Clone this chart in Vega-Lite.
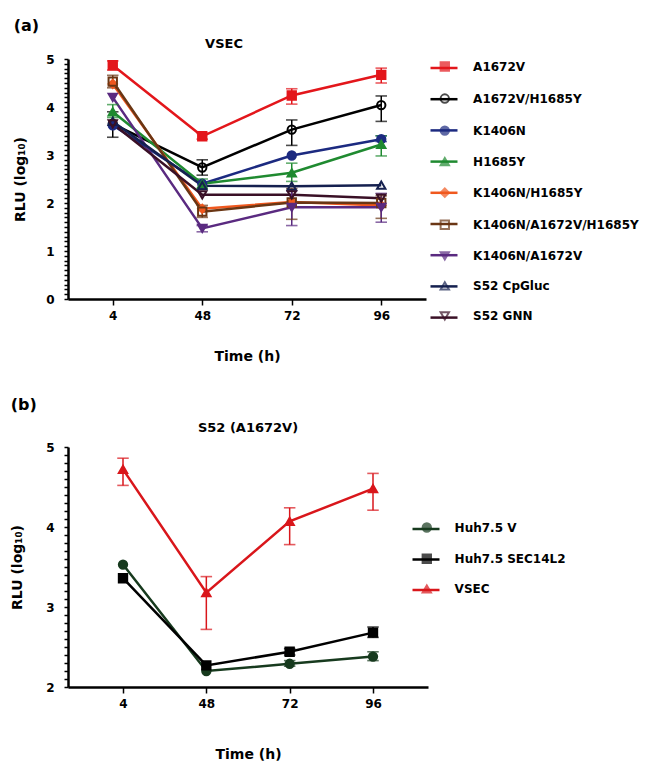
{
  "$schema": "https://vega.github.io/schema/vega-lite/v6.json",
  "padding": {"left": 10, "top": 18, "right": 5, "bottom": 5},
  "config": {
    "font": "DejaVu Sans",
    "view": {"stroke": null},
    "axis": {"domainColor": "black", "domainWidth": 2.5, "tickColor": "black", "tickWidth": 1.5, "labelFont": "DejaVu Sans", "labelFontWeight": "bold", "labelFontSize": 12, "labelColor": "black", "titleFont": "DejaVu Sans", "titleFontWeight": "bold", "titleFontSize": 14, "titleColor": "black", "grid": false, "labelOverlap": false},
    "title": {"font": "DejaVu Sans", "fontWeight": "bold", "color": "black"}
  },
  "datasets": {
    "a": [
      {"series": "A1672V", "t": 4, "y": 4.87, "lo": 4.77, "hi": 4.96},
      {"series": "A1672V", "t": 48, "y": 3.39, "lo": 3.33, "hi": 3.45},
      {"series": "A1672V", "t": 72, "y": 4.24, "lo": 4.06, "hi": 4.38},
      {"series": "A1672V", "t": 96, "y": 4.67, "lo": 4.5, "hi": 4.81},
      {"series": "A1672V/H1685Y", "t": 4, "y": 3.65, "lo": 3.37, "hi": 3.9},
      {"series": "A1672V/H1685Y", "t": 48, "y": 2.74, "lo": 2.58, "hi": 2.9},
      {"series": "A1672V/H1685Y", "t": 72, "y": 3.53, "lo": 3.2, "hi": 3.73},
      {"series": "A1672V/H1685Y", "t": 96, "y": 4.04, "lo": 3.7, "hi": 4.23},
      {"series": "K1406N", "t": 4, "y": 3.62, "lo": null, "hi": null},
      {"series": "K1406N", "t": 48, "y": 2.4, "lo": null, "hi": null},
      {"series": "K1406N", "t": 72, "y": 2.99, "lo": null, "hi": null},
      {"series": "K1406N", "t": 96, "y": 3.33, "lo": 3.28, "hi": 3.4},
      {"series": "H1685Y", "t": 4, "y": 3.9, "lo": 3.78, "hi": 4.05},
      {"series": "H1685Y", "t": 48, "y": 2.4, "lo": 2.3, "hi": 2.5},
      {"series": "H1685Y", "t": 72, "y": 2.63, "lo": 2.45, "hi": 2.83},
      {"series": "H1685Y", "t": 96, "y": 3.22, "lo": 2.98, "hi": 3.4},
      {"series": "K1406N/H1685Y", "t": 4, "y": 4.48, "lo": null, "hi": null},
      {"series": "K1406N/H1685Y", "t": 48, "y": 1.88, "lo": null, "hi": null},
      {"series": "K1406N/H1685Y", "t": 72, "y": 2.02, "lo": null, "hi": null},
      {"series": "K1406N/H1685Y", "t": 96, "y": 1.95, "lo": null, "hi": null},
      {"series": "K1406N/A1672V/H1685Y", "t": 4, "y": 4.53, "lo": 4.4, "hi": 4.66},
      {"series": "K1406N/A1672V/H1685Y", "t": 48, "y": 1.82, "lo": 1.7, "hi": 1.95},
      {"series": "K1406N/A1672V/H1685Y", "t": 72, "y": 2.01, "lo": 1.66, "hi": 2.3},
      {"series": "K1406N/A1672V/H1685Y", "t": 96, "y": 2.0, "lo": 1.68, "hi": 2.15},
      {"series": "K1406N/A1672V", "t": 4, "y": 4.2, "lo": null, "hi": null},
      {"series": "K1406N/A1672V", "t": 48, "y": 1.47, "lo": 1.4, "hi": 1.53},
      {"series": "K1406N/A1672V", "t": 72, "y": 1.91, "lo": 1.53, "hi": 2.25},
      {"series": "K1406N/A1672V", "t": 96, "y": 1.91, "lo": 1.6, "hi": 2.2},
      {"series": "S52 CpGluc", "t": 4, "y": 3.7, "lo": null, "hi": null},
      {"series": "S52 CpGluc", "t": 48, "y": 2.36, "lo": null, "hi": null},
      {"series": "S52 CpGluc", "t": 72, "y": 2.35, "lo": null, "hi": null},
      {"series": "S52 CpGluc", "t": 96, "y": 2.37, "lo": null, "hi": null},
      {"series": "S52 GNN", "t": 4, "y": 3.65, "lo": null, "hi": null},
      {"series": "S52 GNN", "t": 48, "y": 2.17, "lo": null, "hi": null},
      {"series": "S52 GNN", "t": 72, "y": 2.17, "lo": null, "hi": null},
      {"series": "S52 GNN", "t": 96, "y": 2.1, "lo": null, "hi": null}
    ],
    "b": [
      {"series": "VSEC", "t": 4, "y": 4.72, "lo": 4.52, "hi": 4.86},
      {"series": "VSEC", "t": 48, "y": 3.18, "lo": 2.72, "hi": 3.38},
      {"series": "VSEC", "t": 72, "y": 4.07, "lo": 3.78, "hi": 4.24},
      {"series": "VSEC", "t": 96, "y": 4.48, "lo": 4.21, "hi": 4.67},
      {"series": "Huh7.5 V", "t": 4, "y": 3.53, "lo": null, "hi": null},
      {"series": "Huh7.5 V", "t": 48, "y": 2.2, "lo": null, "hi": null},
      {"series": "Huh7.5 V", "t": 72, "y": 2.29, "lo": 2.26, "hi": 2.33},
      {"series": "Huh7.5 V", "t": 96, "y": 2.38, "lo": 2.33, "hi": 2.44},
      {"series": "Huh7.5 SEC14L2", "t": 4, "y": 3.36, "lo": null, "hi": null},
      {"series": "Huh7.5 SEC14L2", "t": 48, "y": 2.27, "lo": null, "hi": null},
      {"series": "Huh7.5 SEC14L2", "t": 72, "y": 2.44, "lo": 2.4, "hi": 2.48},
      {"series": "Huh7.5 SEC14L2", "t": 96, "y": 2.68, "lo": 2.62, "hi": 2.75}
    ]
  },
  "resolve": {
    "scale": {"color": "independent", "stroke": "independent", "fill": "independent", "shape": "independent"},
    "legend": {"color": "independent", "stroke": "independent", "fill": "independent", "shape": "independent"}
  },
  "spacing": 34,
  "vconcat": [
    {
      "title": {"text": "(a)", "anchor": "start", "frame": "bounds", "fontSize": 16, "offset": 4},
      "resolve": {
        "scale": {"color": "independent", "stroke": "independent", "fill": "independent", "shape": "independent"},
        "legend": {"color": "independent", "stroke": "independent", "fill": "independent", "shape": "independent"}
      },
      "vconcat": [
        {
          "title": {"text": "VSEC", "fontSize": 13, "offset": 2, "dx": -23},
          "width": 358,
          "height": 240,
          "data": {"name": "a"},
          "encoding": {
            "x": {"field": "t", "type": "ordinal", "scale": {"type": "point", "padding": 0.5, "domain": [4, 48, 72, 96]},
              "axis": {"title": "Time (h)", "labelAngle": 0, "tickSize": 6, "labelPadding": 5, "titlePadding": 28}}
          },
          "layer": [
            {
              "transform": [{"filter": "datum.y != null"}],
              "mark": {"type": "line", "strokeWidth": 2.5},
              "encoding": {
                "y": {"field": "y", "type": "quantitative", "scale": {"domain": [0, 5]},
                  "axis": {"title": "RLU (log₁₀)", "values": [0,0.1,0.2,0.3,0.4,0.5,0.6,0.7,0.8,0.9,1,1.1,1.2,1.3,1.4,1.5,1.6,1.7,1.8,1.9,2,2.1,2.2,2.3,2.4,2.5,2.6,2.7,2.8,2.9,3,3.1,3.2,3.3,3.4,3.5,3.6,3.7,3.8,3.9,4,4.1,4.2,4.3,4.4,4.5,4.6,4.7,4.8,4.9,5],
                    "tickCount": 200, "labelExpr": "datum.value % 1 == 0 ? format(datum.value, 'd') : ''", "labelOverlap": false, "ticks": true, "tickSize": 4, "labelPadding": 10, "titlePadding": 18}},
                "color": {"field": "series", "type": "nominal",
                  "scale": {"domain": ["S52 GNN","S52 CpGluc","K1406N/A1672V","K1406N/A1672V/H1685Y","K1406N/H1685Y","H1685Y","K1406N","A1672V/H1685Y","A1672V"],
                    "range": ["#3a1026","#15204f","#5a2a80","#6a3614","#f0581e","#1f8a30","#1c2a80","#000000","#e3161b"]},
                  "legend": {"values": ["A1672V","A1672V/H1685Y","K1406N","H1685Y","K1406N/H1685Y","K1406N/A1672V/H1685Y","K1406N/A1672V","S52 CpGluc","S52 GNN"],
                    "orient": "none", "legendX": 361, "legendY": -6, "title": null, "symbolType": "stroke", "symbolSize": 729, "symbolStrokeWidth": 2.5, "symbolOpacity": 1, "labelExpr": "''", "labelFont": "DejaVu Sans", "labelFontSize": 12, "labelFontWeight": "bold", "labelOffset": 13, "rowPadding": 10.2, "padding": 0, "labelLimit": 300}}
              }
            },
            {
              "transform": [{"filter": "datum.lo != null"}],
              "mark": {"type": "rule", "strokeWidth": 1.5},
              "encoding": {
                "y": {"field": "lo", "type": "quantitative"},
                "y2": {"field": "hi"},
                "stroke": {"field": "series", "type": "nominal"}
              }
            },
            {
              "transform": [{"filter": "datum.lo != null"}],
              "mark": {"type": "tick", "filled": false, "thickness": 0.1, "size": 10, "strokeWidth": 1.5},
              "encoding": {
                "y": {"field": "lo", "type": "quantitative"},
                "stroke": {"field": "series", "type": "nominal"}
              }
            },
            {
              "transform": [{"filter": "datum.lo != null"}],
              "mark": {"type": "tick", "filled": false, "thickness": 0.1, "size": 10, "strokeWidth": 1.5},
              "encoding": {
                "y": {"field": "hi", "type": "quantitative"},
                "stroke": {"field": "series", "type": "nominal"}
              }
            },
            {
              "mark": {"type": "point", "size": 70, "strokeWidth": 2, "opacity": 1},
              "encoding": {
                "y": {"field": "y", "type": "quantitative"},
                "stroke": {"field": "series", "type": "nominal",
                  "scale": {"domain": ["A1672V","A1672V/H1685Y","K1406N","H1685Y","K1406N/H1685Y","K1406N/A1672V/H1685Y","K1406N/A1672V","S52 CpGluc","S52 GNN"],
                    "range": ["#e3161b","#000000","#1c2a80","#1f8a30","#f0581e","#6a3614","#5a2a80","#15204f","#3a1026"]},
                  "legend": {"orient": "none", "legendX": 370.8, "legendY": 1.5, "title": null, "symbolSize": 70, "symbolStrokeWidth": 2, "symbolOpacity": 1, "labelFont": "DejaVu Sans", "labelFontSize": 12, "labelFontWeight": "bold", "labelColor": "black", "labelOffset": 22.3, "rowPadding": 14.05, "padding": 0, "labelLimit": 300}},
                "fill": {"field": "series", "type": "nominal",
                  "scale": {"domain": ["A1672V","A1672V/H1685Y","K1406N","H1685Y","K1406N/H1685Y","K1406N/A1672V/H1685Y","K1406N/A1672V","S52 CpGluc","S52 GNN"],
                    "range": ["#e3161b","transparent","#1c2a80","#1f8a30","#f0581e","transparent","#5a2a80","transparent","transparent"]},
                  "legend": {"orient": "none", "legendX": 370.8, "legendY": 1.5, "title": null, "symbolSize": 70, "symbolStrokeWidth": 2, "symbolOpacity": 1, "labelFont": "DejaVu Sans", "labelFontSize": 12, "labelFontWeight": "bold", "labelColor": "black", "labelOffset": 22.3, "rowPadding": 14.05, "padding": 0, "labelLimit": 300}},
                "shape": {"field": "series", "type": "nominal",
                  "scale": {"domain": ["A1672V","A1672V/H1685Y","K1406N","H1685Y","K1406N/H1685Y","K1406N/A1672V/H1685Y","K1406N/A1672V","S52 CpGluc","S52 GNN"],
                    "range": ["square","circle","circle","triangle-up","diamond","square","triangle-down","triangle-up","triangle-down"]},
                  "legend": {"orient": "none", "legendX": 370.8, "legendY": 1.5, "title": null, "symbolSize": 70, "symbolStrokeWidth": 2, "symbolOpacity": 1, "labelFont": "DejaVu Sans", "labelFontSize": 12, "labelFontWeight": "bold", "labelColor": "black", "labelOffset": 22.3, "rowPadding": 14.05, "padding": 0, "labelLimit": 300}}
              }
            }
          ]
        }
      ]
    },
    {
      "title": {"text": "(b)", "anchor": "start", "frame": "bounds", "fontSize": 16, "offset": 9},
      "resolve": {
        "scale": {"color": "independent", "stroke": "independent", "fill": "independent", "shape": "independent"},
        "legend": {"color": "independent", "stroke": "independent", "fill": "independent", "shape": "independent"}
      },
      "vconcat": [
        {
          "title": {"text": "S52 (A1672V)", "fontSize": 13, "offset": 6},
          "width": 360,
          "height": 240,
          "data": {"name": "b"},
          "encoding": {
            "x": {"field": "t", "type": "ordinal", "scale": {"type": "point", "padding": 0.66, "domain": [4, 48, 72, 96]},
              "axis": {"title": "Time (h)", "labelAngle": 0, "tickSize": 6, "labelPadding": 5, "titlePadding": 38}}
          },
          "layer": [
            {
              "transform": [{"filter": "datum.y != null"}],
              "mark": {"type": "line", "strokeWidth": 2.5},
              "encoding": {
                "y": {"field": "y", "type": "quantitative", "scale": {"domain": [2, 5]},
                  "axis": {"title": "RLU (log₁₀)", "values": [2,2.1,2.2,2.3,2.4,2.5,2.6,2.7,2.8,2.9,3,3.1,3.2,3.3,3.4,3.5,3.6,3.7,3.8,3.9,4,4.1,4.2,4.3,4.4,4.5,4.6,4.7,4.8,4.9,5],
                    "tickCount": 200, "labelExpr": "datum.value % 1 == 0 ? format(datum.value, 'd') : ''", "labelOverlap": false, "ticks": true, "tickSize": 4, "labelPadding": 10, "titlePadding": 21}},
                "color": {"field": "series", "type": "nominal",
                  "scale": {"domain": ["VSEC","Huh7.5 SEC14L2","Huh7.5 V"], "range": ["#d9161b","#000000","#173a1e"]},
                  "legend": {"values": ["Huh7.5 V","Huh7.5 SEC14L2","VSEC"],
                    "orient": "none", "legendX": 343, "legendY": 67, "title": null, "symbolType": "stroke", "symbolSize": 729, "symbolStrokeWidth": 2.5, "symbolOpacity": 1, "labelExpr": "''", "labelFont": "DejaVu Sans", "labelFontSize": 12, "labelFontWeight": "bold", "labelOffset": 12.5, "rowPadding": 9.5, "padding": 0, "labelLimit": 300}}
              }
            },
            {
              "transform": [{"filter": "datum.lo != null"}],
              "mark": {"type": "rule", "strokeWidth": 1.5},
              "encoding": {
                "y": {"field": "lo", "type": "quantitative"},
                "y2": {"field": "hi"},
                "stroke": {"field": "series", "type": "nominal"}
              }
            },
            {
              "transform": [{"filter": "datum.lo != null"}],
              "mark": {"type": "tick", "filled": false, "thickness": 0.1, "size": 10, "strokeWidth": 1.5},
              "encoding": {
                "y": {"field": "lo", "type": "quantitative"},
                "stroke": {"field": "series", "type": "nominal"}
              }
            },
            {
              "transform": [{"filter": "datum.lo != null"}],
              "mark": {"type": "tick", "filled": false, "thickness": 0.1, "size": 10, "strokeWidth": 1.5},
              "encoding": {
                "y": {"field": "hi", "type": "quantitative"},
                "stroke": {"field": "series", "type": "nominal"}
              }
            },
            {
              "mark": {"type": "point", "size": 70, "strokeWidth": 2, "opacity": 1},
              "encoding": {
                "y": {"field": "y", "type": "quantitative"},
                "stroke": {"field": "series", "type": "nominal",
                  "scale": {"domain": ["Huh7.5 V","Huh7.5 SEC14L2","VSEC"], "range": ["#173a1e","#000000","#d9161b"]},
                  "legend": {"orient": "none", "legendX": 352.8, "legendY": 74.5, "title": null, "symbolSize": 70, "symbolStrokeWidth": 2, "symbolOpacity": 1, "labelFont": "DejaVu Sans", "labelFontSize": 12, "labelFontWeight": "bold", "labelColor": "black", "labelOffset": 21.8, "rowPadding": 13.25, "padding": 0, "labelLimit": 300}},
                "fill": {"field": "series", "type": "nominal",
                  "scale": {"domain": ["Huh7.5 V","Huh7.5 SEC14L2","VSEC"], "range": ["#173a1e","#000000","#d9161b"]},
                  "legend": {"orient": "none", "legendX": 352.8, "legendY": 74.5, "title": null, "symbolSize": 70, "symbolStrokeWidth": 2, "symbolOpacity": 1, "labelFont": "DejaVu Sans", "labelFontSize": 12, "labelFontWeight": "bold", "labelColor": "black", "labelOffset": 21.8, "rowPadding": 13.25, "padding": 0, "labelLimit": 300}},
                "shape": {"field": "series", "type": "nominal",
                  "scale": {"domain": ["Huh7.5 V","Huh7.5 SEC14L2","VSEC"], "range": ["circle","square","triangle-up"]},
                  "legend": {"orient": "none", "legendX": 352.8, "legendY": 74.5, "title": null, "symbolSize": 70, "symbolStrokeWidth": 2, "symbolOpacity": 1, "labelFont": "DejaVu Sans", "labelFontSize": 12, "labelFontWeight": "bold", "labelColor": "black", "labelOffset": 21.8, "rowPadding": 13.25, "padding": 0, "labelLimit": 300}}
              }
            }
          ]
        }
      ]
    }
  ]
}
